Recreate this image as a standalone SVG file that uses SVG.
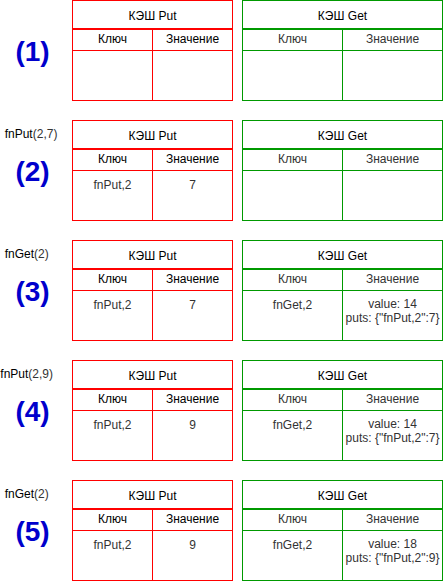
<svg xmlns="http://www.w3.org/2000/svg" width="443" height="582" viewBox="0 0 443 582">
<style>
text{font-family:"Liberation Sans",Arial,sans-serif;font-size:12px}
.put{fill:#fff;stroke:#FF0000;stroke-width:1}
.putl{stroke:#FF0000;stroke-width:1;fill:none}
.get{fill:#fff;stroke:#009900;stroke-width:1}
.getl{stroke:#009900;stroke-width:1;fill:none}
.c{text-anchor:middle}
.tp{fill:#000}
.tg{fill:#333}
.num{font-size:28px;font-weight:bold;fill:#0000CC;text-anchor:middle}
.call{fill:#333}
.fn{fill:#000}
</style>
<defs>
<g id="putTable">
<rect class="put" x="72.5" y="0.5" width="160" height="100"/>
<line class="putl" x1="72.5" y1="28.5" x2="232.5" y2="28.5"/>
<line class="putl" x1="72.5" y1="29.5" x2="232.5" y2="29.5"/>
<line class="putl" x1="72.5" y1="50.5" x2="232.5" y2="50.5"/>
<line class="putl" x1="152.5" y1="29.5" x2="152.5" y2="100.5"/>
<text class="c tp" x="152.5" y="19.5">КЭШ Put</text>
<text class="c tp" x="112.5" y="43">Ключ</text>
<text class="c tp" x="192.5" y="43">Значение</text>
</g>
<g id="getTable">
<rect class="get" x="242.5" y="0.5" width="200" height="100"/>
<line class="getl" x1="242.5" y1="28.5" x2="442.5" y2="28.5"/>
<line class="getl" x1="242.5" y1="29.5" x2="442.5" y2="29.5"/>
<line class="getl" x1="242.5" y1="50.5" x2="442.5" y2="50.5"/>
<line class="getl" x1="342.5" y1="29.5" x2="342.5" y2="100.5"/>
<text class="c tp" x="342.5" y="19.5">КЭШ Get</text>
<text class="c tg" x="292.5" y="43">Ключ</text>
<text class="c tg" x="392.5" y="43">Значение</text>
</g>
</defs>

<g id="connectors"></g>

<g id="step1">
<text class="num" x="32.5" y="60.5">(1)</text>
</g>
<g id="put1"><use href="#putTable"/></g>
<g id="get1"><use href="#getTable"/></g>

<g id="step2" transform="translate(0,120)">
<text x="4.7" y="17.5"><tspan class="fn">fnPut</tspan><tspan class="call">(2,7)</tspan></text>
<text class="num" x="32.5" y="61">(2)</text>
</g>
<g id="put2" transform="translate(0,120)"><use href="#putTable"/>
<text class="c tg" x="112.5" y="69">fnPut,2</text>
<text class="c tg" x="192.5" y="69">7</text>
</g>
<g id="get2" transform="translate(0,120)"><use href="#getTable"/></g>

<g id="step3" transform="translate(0,240)">
<text x="4.7" y="17.5"><tspan class="fn">fnGet</tspan><tspan class="call">(2)</tspan></text>
<text class="num" x="32.5" y="61">(3)</text>
</g>
<g id="put3" transform="translate(0,240)"><use href="#putTable"/>
<text class="c tg" x="112.5" y="69">fnPut,2</text>
<text class="c tg" x="192.5" y="69">7</text>
</g>
<g id="get3" transform="translate(0,240)"><use href="#getTable"/>
<text class="c tg" x="292.5" y="69">fnGet,2</text>
<text class="c tg" x="392.5" y="68">value: 14</text>
<text class="c tg" x="392.5" y="82">puts: {"fnPut,2":7}</text>
</g>

<g id="step4" transform="translate(0,360)">
<text x="0.3" y="17.5"><tspan class="fn">fnPut</tspan><tspan class="call">(2,9)</tspan></text>
<text class="num" x="32.5" y="61">(4)</text>
</g>
<g id="put4" transform="translate(0,360)"><use href="#putTable"/>
<text class="c tg" x="112.5" y="69">fnPut,2</text>
<text class="c tg" x="192.5" y="69">9</text>
</g>
<g id="get4" transform="translate(0,360)"><use href="#getTable"/>
<text class="c tg" x="292.5" y="69">fnGet,2</text>
<text class="c tg" x="392.5" y="68">value: 14</text>
<text class="c tg" x="392.5" y="82">puts: {"fnPut,2":7}</text>
</g>

<g id="step5" transform="translate(0,480)">
<text x="4.7" y="17.5"><tspan class="fn">fnGet</tspan><tspan class="call">(2)</tspan></text>
<text class="num" x="32.5" y="61">(5)</text>
</g>
<g id="put5" transform="translate(0,480)"><use href="#putTable"/>
<text class="c tg" x="112.5" y="69">fnPut,2</text>
<text class="c tg" x="192.5" y="69">9</text>
</g>
<g id="get5" transform="translate(0,480)"><use href="#getTable"/>
<text class="c tg" x="292.5" y="69">fnGet,2</text>
<text class="c tg" x="392.5" y="68">value: 18</text>
<text class="c tg" x="392.5" y="82">puts: {"fnPut,2":9}</text>
</g>
</svg>
